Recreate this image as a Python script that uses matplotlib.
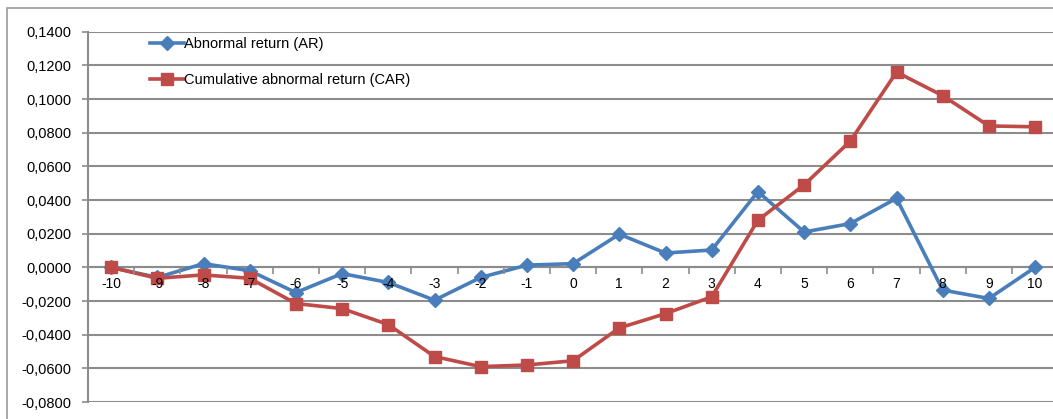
import matplotlib
matplotlib.use('Agg')
import matplotlib.pyplot as plt
import matplotlib.patches as patches

plt.rcParams['font.family'] = ['Liberation Sans', 'DejaVu Sans']

# event window (days)
days = list(range(-10, 11))
ar = [0.0000, -0.0060, 0.0022, -0.0020, -0.0150, -0.0037, -0.0090, -0.0195, -0.0060, 0.0013, 0.0022,
      0.0197, 0.0085, 0.0103, 0.0450, 0.0210, 0.0260, 0.0410, -0.0135, -0.0185, 0.0000]
car = [0.0000, -0.0065, -0.0045, -0.0065, -0.0215, -0.0245, -0.0340, -0.0530, -0.0590, -0.0580, -0.0555,
       -0.0360, -0.0275, -0.0175, 0.0280, 0.0490, 0.0750, 0.1160, 0.1020, 0.0840, 0.0835]
yticks = [-0.08, -0.06, -0.04, -0.02, 0.0, 0.02, 0.04, 0.06, 0.08, 0.10, 0.12, 0.14]

W, H = 1053, 419
fig = plt.figure(figsize=(W / 100, H / 100), dpi=100)
ax = fig.add_axes([88 / W, (H - 402) / H, (W - 88) / W, (402 - 31.7) / H])

blue = '#4a7ebb'
red = '#be4b48'
grid = '#8c8c8c'

# gridlines drawn by hand so the x labels can sit above the lines
for v in yticks:
    ax.axhline(v, color=grid, lw=1.5, zorder=1)

ax.plot(days, ar, color=blue, lw=2.6, marker='D', ms=7, label='Abnormal return (AR)', zorder=3)
ax.plot(days, car, color=red, lw=2.6, marker='s', ms=9, label='Cumulative abnormal return (CAR)', zorder=4)

ax.set_xlim(-10.5, -10.5 + (W - 88) / 46.2)
ax.set_ylim(-0.08, 0.14)
ax.set_yticks(yticks)
ax.set_yticklabels([f'{v:.4f}'.replace('.', ',') for v in yticks], fontsize=10.5)

ax.set_xticks(days)
ax.set_xticklabels([str(d) for d in days], fontsize=10.5)
ax.set_xticks([d + 0.5 for d in days[:-1]] + [-10.5], minor=True)
ax.tick_params(axis='x', which='major', length=0, pad=7)
ax.tick_params(axis='x', which='minor', length=5, width=1.2, color=grid, direction='out')
ax.tick_params(axis='y', length=4, width=1.2, color=grid, pad=8)
ax.xaxis.set_zorder(6)

ax.spines['bottom'].set_position(('data', 0))
ax.spines['bottom'].set_color(grid)
ax.spines['bottom'].set_linewidth(1.5)
ax.spines['bottom'].set_zorder(1)
ax.spines['left'].set_color(grid)
ax.spines['left'].set_linewidth(1.5)
ax.spines['top'].set_visible(False)
ax.spines['right'].set_visible(False)

ax.legend(loc='upper left', bbox_to_anchor=(150 / W, 1 - 37 / H), bbox_transform=fig.transFigure,
          frameon=False, fontsize=10.5, borderpad=0, borderaxespad=0, handlelength=2.3,
          handletextpad=0.05, labelspacing=1.5)

# outer chart border
fig.patches.append(patches.Rectangle((7 / W, -0.5), 2, (H - 8) / H + 0.5, transform=fig.transFigure,
                                     fill=False, edgecolor='#9a9a9a', lw=1.2))

fig.savefig('out.png', dpi=100)
